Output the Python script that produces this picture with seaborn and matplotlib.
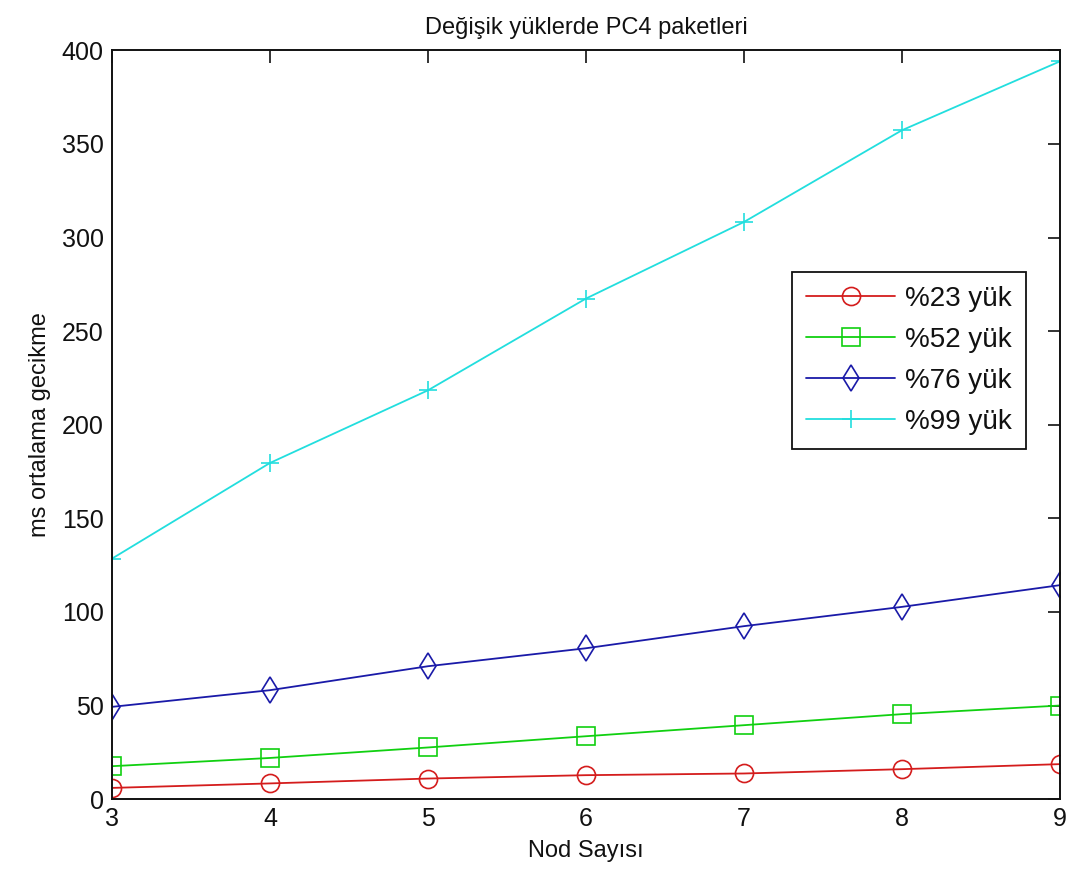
import matplotlib
matplotlib.use("Agg")
import matplotlib.pyplot as plt
import seaborn as sns
import pandas as pd

# Node counts and mean delays (ms) for each load level
nodes = [3, 4, 5, 6, 7, 8, 9]
load_23 = [6.0, 8.4, 11.0, 12.8, 13.7, 16.0, 18.7]
load_52 = [17.6, 22.0, 27.6, 33.6, 39.5, 45.4, 50.0]
load_76 = [49.3, 58.2, 71.0, 80.6, 92.4, 102.7, 114.3]
load_99 = [128.5, 179.6, 218.4, 267.4, 308.3, 357.3, 394.1]
series_names = ["%23 yük", "%52 yük", "%76 yük", "%99 yük"]

sns.set_style("white")
plt.rcParams["font.family"] = ["Liberation Sans Narrow", "Liberation Sans", "DejaVu Sans"]
plt.rcParams["text.color"] = "#111111"

fig = plt.figure(figsize=(10.77, 8.84), dpi=100)
ax = fig.add_axes([0.104, 0.096, 0.880, 0.847])

colors = ["#d41c1c", "#10d010", "#1a1aa8", "#22dede"]
marker_list = ["o", "s", "d", "+"]

for name, vals, col, mk in zip(series_names, [load_23, load_52, load_76, load_99],
                               colors, marker_list):
    df = pd.DataFrame({"Nod": nodes, "Gecikme": vals})
    sns.lineplot(data=df, x="Nod", y="Gecikme", color=col, marker=mk,
                 markersize=13, linewidth=1.3, mfc="none", mec=col, mew=1.2,
                 label=name, ax=ax)

ax.set_xlim(3, 9)
ax.set_ylim(0, 400)
ax.set_xticks(nodes)
ax.set_yticks(range(0, 401, 50))
ax.tick_params(direction="in", length=9, width=1.2, top=True, right=True,
               labelsize=18, pad=6, colors="#111111")
for s in ax.spines.values():
    s.set_visible(True)
    s.set_linewidth(1.4)
    s.set_color("#111111")

ax.set_xlabel("Nod Sayısı", fontsize=17, labelpad=6, color="#111111")
ax.set_ylabel("ms ortalama gecikme", fontsize=17, labelpad=8, color="#111111")
ax.set_title("Değişik yüklerde PC4 paketleri", fontsize=17, pad=12, color="#111111")

leg = ax.legend(loc="upper left", bbox_to_anchor=(0.718, 0.704), fontsize=20,
                frameon=True, fancybox=False, edgecolor="#111111",
                handlelength=3.2, borderpad=0.5, labelspacing=0.54,
                handletextpad=0.35, borderaxespad=0, framealpha=1)
leg.get_frame().set_linewidth(1.3)

fig.savefig("out.png", dpi=100)
